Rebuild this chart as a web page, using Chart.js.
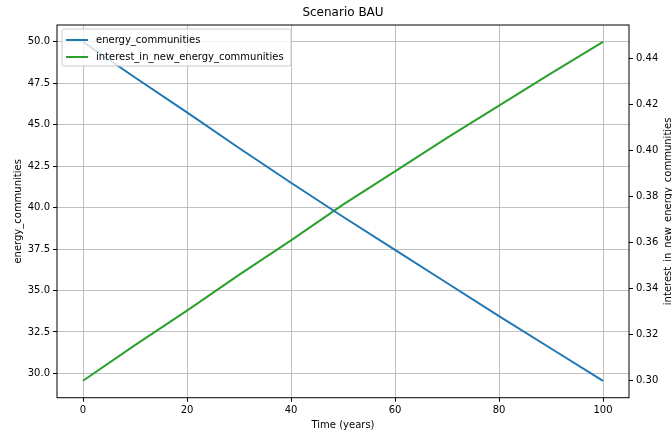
<!DOCTYPE html>
<html><head><meta charset="utf-8">
<script src="https://cdn.jsdelivr.net/npm/chart.js@4.4.0/dist/chart.umd.min.js"></script>
<style>html,body{margin:0;padding:0;background:#fff;overflow:hidden}#wrap{width:672px;height:434px;position:relative}</style>
</head><body><div id="wrap"><canvas id="c" width="672" height="434"></canvas></div>
<script>
const years = [0, 10, 20, 30, 40, 50, 60, 70, 80, 90, 100];
const energyCommunities = [50.0, 47.85, 45.75, 43.6, 41.5, 39.45, 37.45, 35.45, 33.45, 31.5, 29.55];
const interestInNewEnergyCommunities = [0.300, 0.3155, 0.3305, 0.346, 0.361, 0.3765, 0.391, 0.4055, 0.4195, 0.4335, 0.4472];
const xTicks = [0, 20, 40, 60, 80, 100];
const leftTicks = [30, 32.5, 35, 37.5, 40, 42.5, 45, 47.5, 50];
const rightTicks = [0.30, 0.32, 0.34, 0.36, 0.38, 0.40, 0.42, 0.44];

const FONT = "'DejaVu Sans', sans-serif";
const pairs = (xs, ys) => xs.map((x, i) => ({x: x, y: ys[i]}));

const framePlugin = {
  id: 'frame',
  afterDatasetsDraw(chart) {
    const {ctx, chartArea: a} = chart;
    ctx.save();
    ctx.strokeStyle = '#000';
    ctx.lineWidth = 1;
    ctx.strokeRect(a.left, a.top, a.right - a.left, a.bottom - a.top);
    ctx.restore();
  }
};

const legendPlugin = {
  id: 'mplLegend',
  afterDraw(chart) {
    const ctx = chart.ctx;
    const x0 = 62, y0 = 29, w = 229, h = 37, r = 2;
    ctx.save();
    ctx.beginPath();
    ctx.moveTo(x0 + r, y0);
    ctx.lineTo(x0 + w - r, y0);
    ctx.quadraticCurveTo(x0 + w, y0, x0 + w, y0 + r);
    ctx.lineTo(x0 + w, y0 + h - r);
    ctx.quadraticCurveTo(x0 + w, y0 + h, x0 + w - r, y0 + h);
    ctx.lineTo(x0 + r, y0 + h);
    ctx.quadraticCurveTo(x0, y0 + h, x0, y0 + h - r);
    ctx.lineTo(x0, y0 + r);
    ctx.quadraticCurveTo(x0, y0, x0 + r, y0);
    ctx.closePath();
    ctx.fillStyle = 'rgba(255,255,255,0.8)';
    ctx.fill();
    ctx.strokeStyle = '#cccccc';
    ctx.lineWidth = 1;
    ctx.stroke();
    chart.data.datasets.forEach((ds, i) => {
      const y = 40 + i * 17;
      ctx.beginPath();
      ctx.moveTo(66, y);
      ctx.lineTo(88, y);
      ctx.strokeStyle = ds.borderColor;
      ctx.lineWidth = 2;
      ctx.stroke();
      ctx.fillStyle = '#000';
      ctx.font = '10px ' + FONT;
      ctx.textBaseline = 'middle';
      ctx.textAlign = 'left';
      ctx.fillText(ds.label, 96, y);
    });
    ctx.restore();
  }
};

const rightTitlePlugin = {
  id: 'rightTitle',
  afterDraw(chart) {
    const ctx = chart.ctx;
    const a = chart.chartArea;
    ctx.save();
    ctx.translate(671, (a.top + a.bottom) / 2);
    ctx.rotate(-Math.PI / 2);
    ctx.fillStyle = '#000';
    ctx.font = '10px ' + FONT;
    ctx.textAlign = 'center';
    ctx.textBaseline = 'alphabetic';
    ctx.fillText('interest_in_new_energy_communities', 0, 0);
    ctx.restore();
  }
};

new Chart(document.getElementById('c'), {
  type: 'line',
  data: {
    datasets: [
      {label: 'energy_communities', data: pairs(years, energyCommunities), borderColor: '#1f77b4', borderWidth: 2, pointRadius: 0, tension: 0, yAxisID: 'y', fill: false},
      {label: 'interest_in_new_energy_communities', data: pairs(years, interestInNewEnergyCommunities), borderColor: '#2ca02c', borderWidth: 2, pointRadius: 0, tension: 0, yAxisID: 'y1', fill: false}
    ]
  },
  options: {
    responsive: false,
    devicePixelRatio: 1,
    animation: false,
    layout: {padding: 0},
    plugins: {
      legend: {display: false},
      tooltip: {enabled: false},
      title: {display: true, text: 'Scenario BAU', fullSize: false, color: '#000', font: {family: FONT, size: 12, weight: 'normal'}, padding: {top: 6, bottom: 4.6}}
    },
    scales: {
      x: {
        type: 'linear', position: 'bottom', min: -5, max: 105,
        afterBuildTicks: s => { s.ticks = xTicks.map(v => ({value: v})); },
        afterFit: s => { s.height = 36.3; },
        grid: {color: '#b0b0b0', lineWidth: 0.8, drawTicks: true, tickLength: 4, tickColor: '#000', tickWidth: 1},
        border: {display: false},
        ticks: {autoSkip: false, maxRotation: 0, padding: 3, color: '#000', font: {family: FONT, size: 10}, callback: v => String(v)},
        title: {display: true, text: 'Time (years)', color: '#000', font: {family: FONT, size: 10}, padding: {top: 0, bottom: 3}}
      },
      y: {
        type: 'linear', position: 'left', min: 28.53, max: 51.02,
        afterBuildTicks: s => { s.ticks = leftTicks.map(v => ({value: v})); },
        afterFit: s => { s.width = 57; },
        grid: {color: '#b0b0b0', lineWidth: 0.8, drawTicks: true, tickLength: 4, tickColor: '#000', tickWidth: 1},
        border: {display: false},
        ticks: {autoSkip: false, padding: 3, color: '#000', font: {family: FONT, size: 10}, callback: v => Number(v).toFixed(1)},
        title: {display: true, text: 'energy_communities', color: '#000', font: {family: FONT, size: 10}, padding: {top: 12, bottom: 0}}
      },
      y1: {
        type: 'linear', position: 'right', min: 0.29264, max: 0.45456,
        afterBuildTicks: s => { s.ticks = rightTicks.map(v => ({value: v})); },
        afterFit: s => { s.width = 43; },
        grid: {drawOnChartArea: false, drawTicks: true, tickLength: 4, tickColor: '#000', tickWidth: 1},
        border: {display: false},
        ticks: {autoSkip: false, padding: 3, color: '#000', font: {family: FONT, size: 10}, callback: v => Number(v).toFixed(2)},
        title: {display: false}
      }
    }
  },
  plugins: [framePlugin, legendPlugin, rightTitlePlugin]
});
</script></body></html>
